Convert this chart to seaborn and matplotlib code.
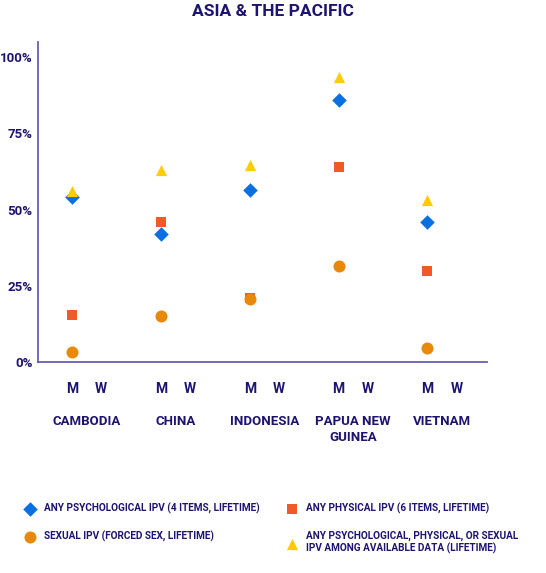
import matplotlib
matplotlib.use("Agg")
import matplotlib.pyplot as plt
import seaborn as sns
import pandas as pd
import numpy as np

countries = ["CAMBODIA", "CHINA", "INDONESIA", "PAPUA NEW\nGUINEA", "VIETNAM"]
psych = [54, 42, 56.5, 86, 46]
physical = [15.5, 46, 21, 64, 30]
sexual = [3.3, 15, 20.7, 31.5, 4.6]
any_ipv = [56, 63, 64.5, 93.5, 53]
series_names = ["ANY PSYCHOLOGICAL IPV (4 ITEMS, LIFETIME)", "ANY PHYSICAL IPV (6 ITEMS, LIFETIME)",
                "SEXUAL IPV (FORCED SEX, LIFETIME)",
                "ANY PSYCHOLOGICAL, PHYSICAL, OR SEXUAL\nIPV AMONG AVAILABLE DATA (LIFETIME)"]
yticks = [0, 25, 50, 75, 100]

navy = "#1c1470"
colors = ["#0a6fe0", "#f05a28", "#e8890c", "#ffcc00"]
markers = ["D", "s", "o", "^"]
sizes = [55, 55, 75, 65]

sns.set_style("white")
plt.rcParams['font.family'] = ['Roboto', 'DejaVu Sans']
plt.rcParams['font.weight'] = 'bold'

rows = []
for s, vals in zip(series_names, [psych, physical, sexual, any_ipv]):
    for i, v in enumerate(vals):
        rows.append({"x": float(i), "y": v, "series": s})
df = pd.DataFrame(rows)

fig = plt.figure(figsize=(5.46, 5.73), dpi=100)
ax = fig.add_axes([0.07, 0.368, 0.822, 0.559])
for s, c, m, sz in zip(series_names, colors, markers, sizes):
    sub = df[df.series == s]
    sns.scatterplot(data=sub, x="x", y="y", color=c, marker=m, s=sz, linewidth=0, ax=ax, label=s, zorder=3)

ax.set_xlim(-0.38, 4.67)
ax.set_ylim(0, 105)
ax.set_yticks(yticks)
ax.set_yticklabels([f"{t}%" for t in yticks], color=navy, fontsize=9.5, fontweight='bold')
pos = []
labs = []
for i in range(len(countries)):
    pos += [i, i + 0.33]
    labs += ["M", "W"]
ax.set_xticks(pos)
ax.set_xticklabels(labs, color=navy, fontsize=10, fontweight='bold')
ax.tick_params(length=0, pad=14)
ax.tick_params(axis='y', pad=4)
for i, c in enumerate(countries):
    ax.text(i + 0.165, -0.165, c, transform=ax.get_xaxis_transform(), ha='center', va='top',
            color=navy, fontsize=9.5, fontweight='bold', linespacing=1.3)
for sp in ["top", "right"]:
    ax.spines[sp].set_visible(False)
for sp in ["left", "bottom"]:
    ax.spines[sp].set_color("#6a5fb0")
    ax.spines[sp].set_linewidth(1.3)
ax.set_xlabel("")
ax.set_ylabel("")
ax.get_legend().remove()
fig.text(0.5, 0.98, "ASIA & THE PACIFIC", ha='center', va='center', color=navy, fontsize=12.5, fontweight='bold')

h, l = ax.get_legend_handles_labels()
order = [0, 2, 1, 3]
fig.legend([h[k] for k in order], [l[k] for k in order], loc='upper left', bbox_to_anchor=(0.03, 0.13), ncol=2,
           frameon=False, labelcolor=navy, handletextpad=0.4, columnspacing=2.2, borderaxespad=0,
           labelspacing=1.7, prop={'weight': 'bold', 'size': 7.2})
fig.savefig("out.png", dpi=100)
